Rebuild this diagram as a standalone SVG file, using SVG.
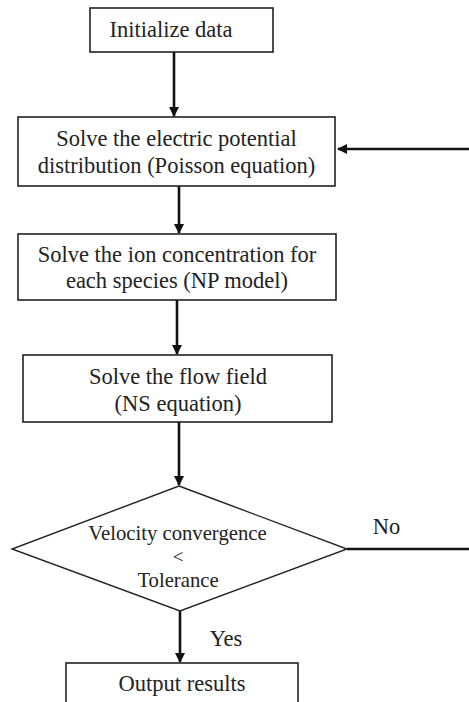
<svg xmlns="http://www.w3.org/2000/svg" width="469" height="702" viewBox="0 0 469 702">
<defs>
<marker id="ah" markerWidth="10" markerHeight="10" refX="9" refY="5" orient="auto" markerUnits="userSpaceOnUse" viewBox="0 0 10 10">
<path d="M0,0 L10,5 L0,10 z" fill="#111"/>
</marker>
<style>
.box{fill:#fff;stroke:#222;stroke-width:1.6}
.dia{fill:#fff;stroke:#222;stroke-width:1.4}
.t{font-size:22.5px;fill:#222;text-anchor:middle}
.c{fill:none;stroke:#111;stroke-width:2.6}
</style>
</defs>
<rect width="469" height="702" fill="#fff"/>
<g font-family="'Liberation Serif', 'Times New Roman', 'DejaVu Serif', serif">
<g id="connectors">
<line class="c" x1="174" y1="52" x2="174" y2="116" marker-end="url(#ah)"/>
<line class="c" x1="179" y1="186" x2="179" y2="233" marker-end="url(#ah)"/>
<line class="c" x1="177" y1="300" x2="177" y2="354" marker-end="url(#ah)"/>
<line class="c" x1="179" y1="422" x2="179" y2="485" marker-end="url(#ah)"/>
<line class="c" x1="180" y1="611" x2="180" y2="662" marker-end="url(#ah)"/>
<path class="c" d="M347,549 H474 V149 H338" marker-end="url(#ah)"/>
<text class="t" x="386.5" y="534">No</text>
<text class="t" x="226" y="646">Yes</text>
</g>
<g id="n1">
<rect class="box" x="90" y="8" width="183" height="44"/>
<text class="t" x="171" y="37">Initialize data</text>
</g>
<g id="n2">
<rect class="box" x="18" y="117" width="317" height="69"/>
<text class="t" x="176.5" y="146">Solve the electric potential</text>
<text class="t" x="176.5" y="173">distribution (Poisson equation)</text>
</g>
<g id="n3">
<rect class="box" x="18" y="234" width="318" height="66"/>
<text class="t" x="177" y="262">Solve the ion concentration for</text>
<text class="t" x="177" y="288">each species (NP model)</text>
</g>
<g id="n4">
<rect class="box" x="23" y="355" width="309" height="67"/>
<text class="t" x="178" y="384">Solve the flow field</text>
<text class="t" x="178" y="411">(NS equation)</text>
</g>
<g id="n5">
<polygon class="dia" points="179,486 347,549 180,611 12,549"/>
<text class="t" x="177.5" y="540" style="font-size:20.7px">Velocity convergence</text>
<text class="t" x="178" y="563" style="font-size:19px">&lt;</text>
<text class="t" x="178" y="587" style="font-size:20.7px">Tolerance</text>
</g>
<g id="n6">
<rect class="box" x="66" y="663" width="232" height="50"/>
<text class="t" x="182" y="691">Output results</text>
</g>
</g>
</svg>
